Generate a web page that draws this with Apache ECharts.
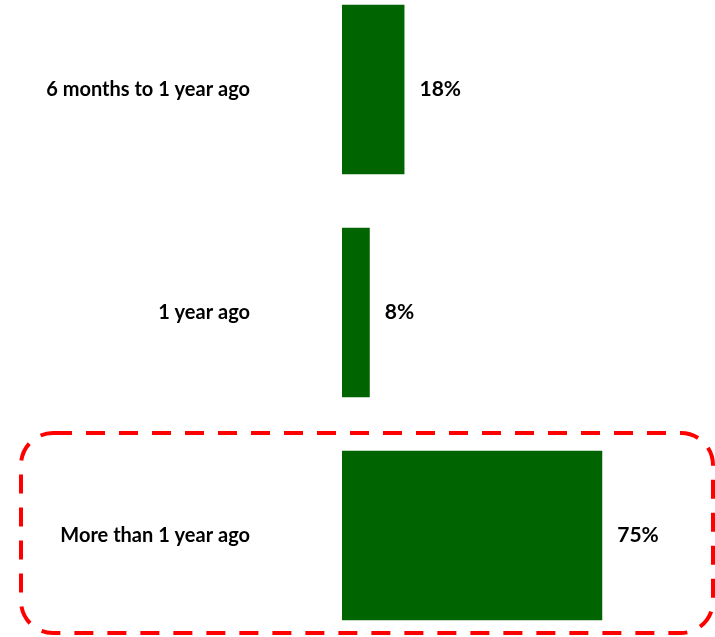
<!DOCTYPE html>
<html>
<head>
<meta charset="utf-8">
<script src="https://cdn.jsdelivr.net/npm/echarts@6/dist/echarts.min.js"></script>
<style>
  html, body { margin: 0; padding: 0; background: #fff; overflow: hidden; }
  #wrap { position: relative; width: 715px; height: 637px; overflow: hidden; }
  /* The plot extends a little past the top of the visible frame */
  #chart { position: absolute; left: 0; top: -22px; width: 715px; height: 669px; }
</style>
</head>
<body>
<div id="wrap"><div id="chart"></div></div>
<script>
// Time since last visit, share of respondents (%)
const categories = ['6 months to 1 year ago', '1 year ago', 'More than 1 year ago'];
const values = [18, 8, 75];

const chart = echarts.init(document.getElementById('chart'));
const labelFont = 'Lato, "Open Sans", sans-serif';
const offsetY = 22;

chart.setOption({
  animation: false,
  grid: { left: 342, right: 26, top: 0, bottom: 0, containLabel: false },
  xAxis: {
    type: 'value', min: 0, max: 100,
    show: false
  },
  yAxis: {
    type: 'category',
    data: categories,
    inverse: true,
    axisLine: { show: false },
    axisTick: { show: false },
    axisLabel: {
      margin: 92,
      color: '#000',
      fontFamily: labelFont,
      fontWeight: 'bold',
      fontSize: 20
    }
  },
  series: [{
    type: 'bar',
    data: values,
    barCategoryGap: '24%',
    itemStyle: { color: '#006400' },
    label: {
      show: true,
      position: 'right',
      distance: 15,
      formatter: '{c}%',
      color: '#000',
      fontFamily: labelFont,
      fontWeight: 'bold',
      fontSize: 21
    }
  }],
  graphic: [{
    type: 'rect',
    shape: { x: 21, y: 433 + offsetY, width: 692, height: 200, r: 32 },
    style: {
      fill: 'none',
      stroke: '#ff0000',
      lineWidth: 4,
      lineDash: [19, 14]
    },
    z: 10
  }]
});
</script>
</body>
</html>
